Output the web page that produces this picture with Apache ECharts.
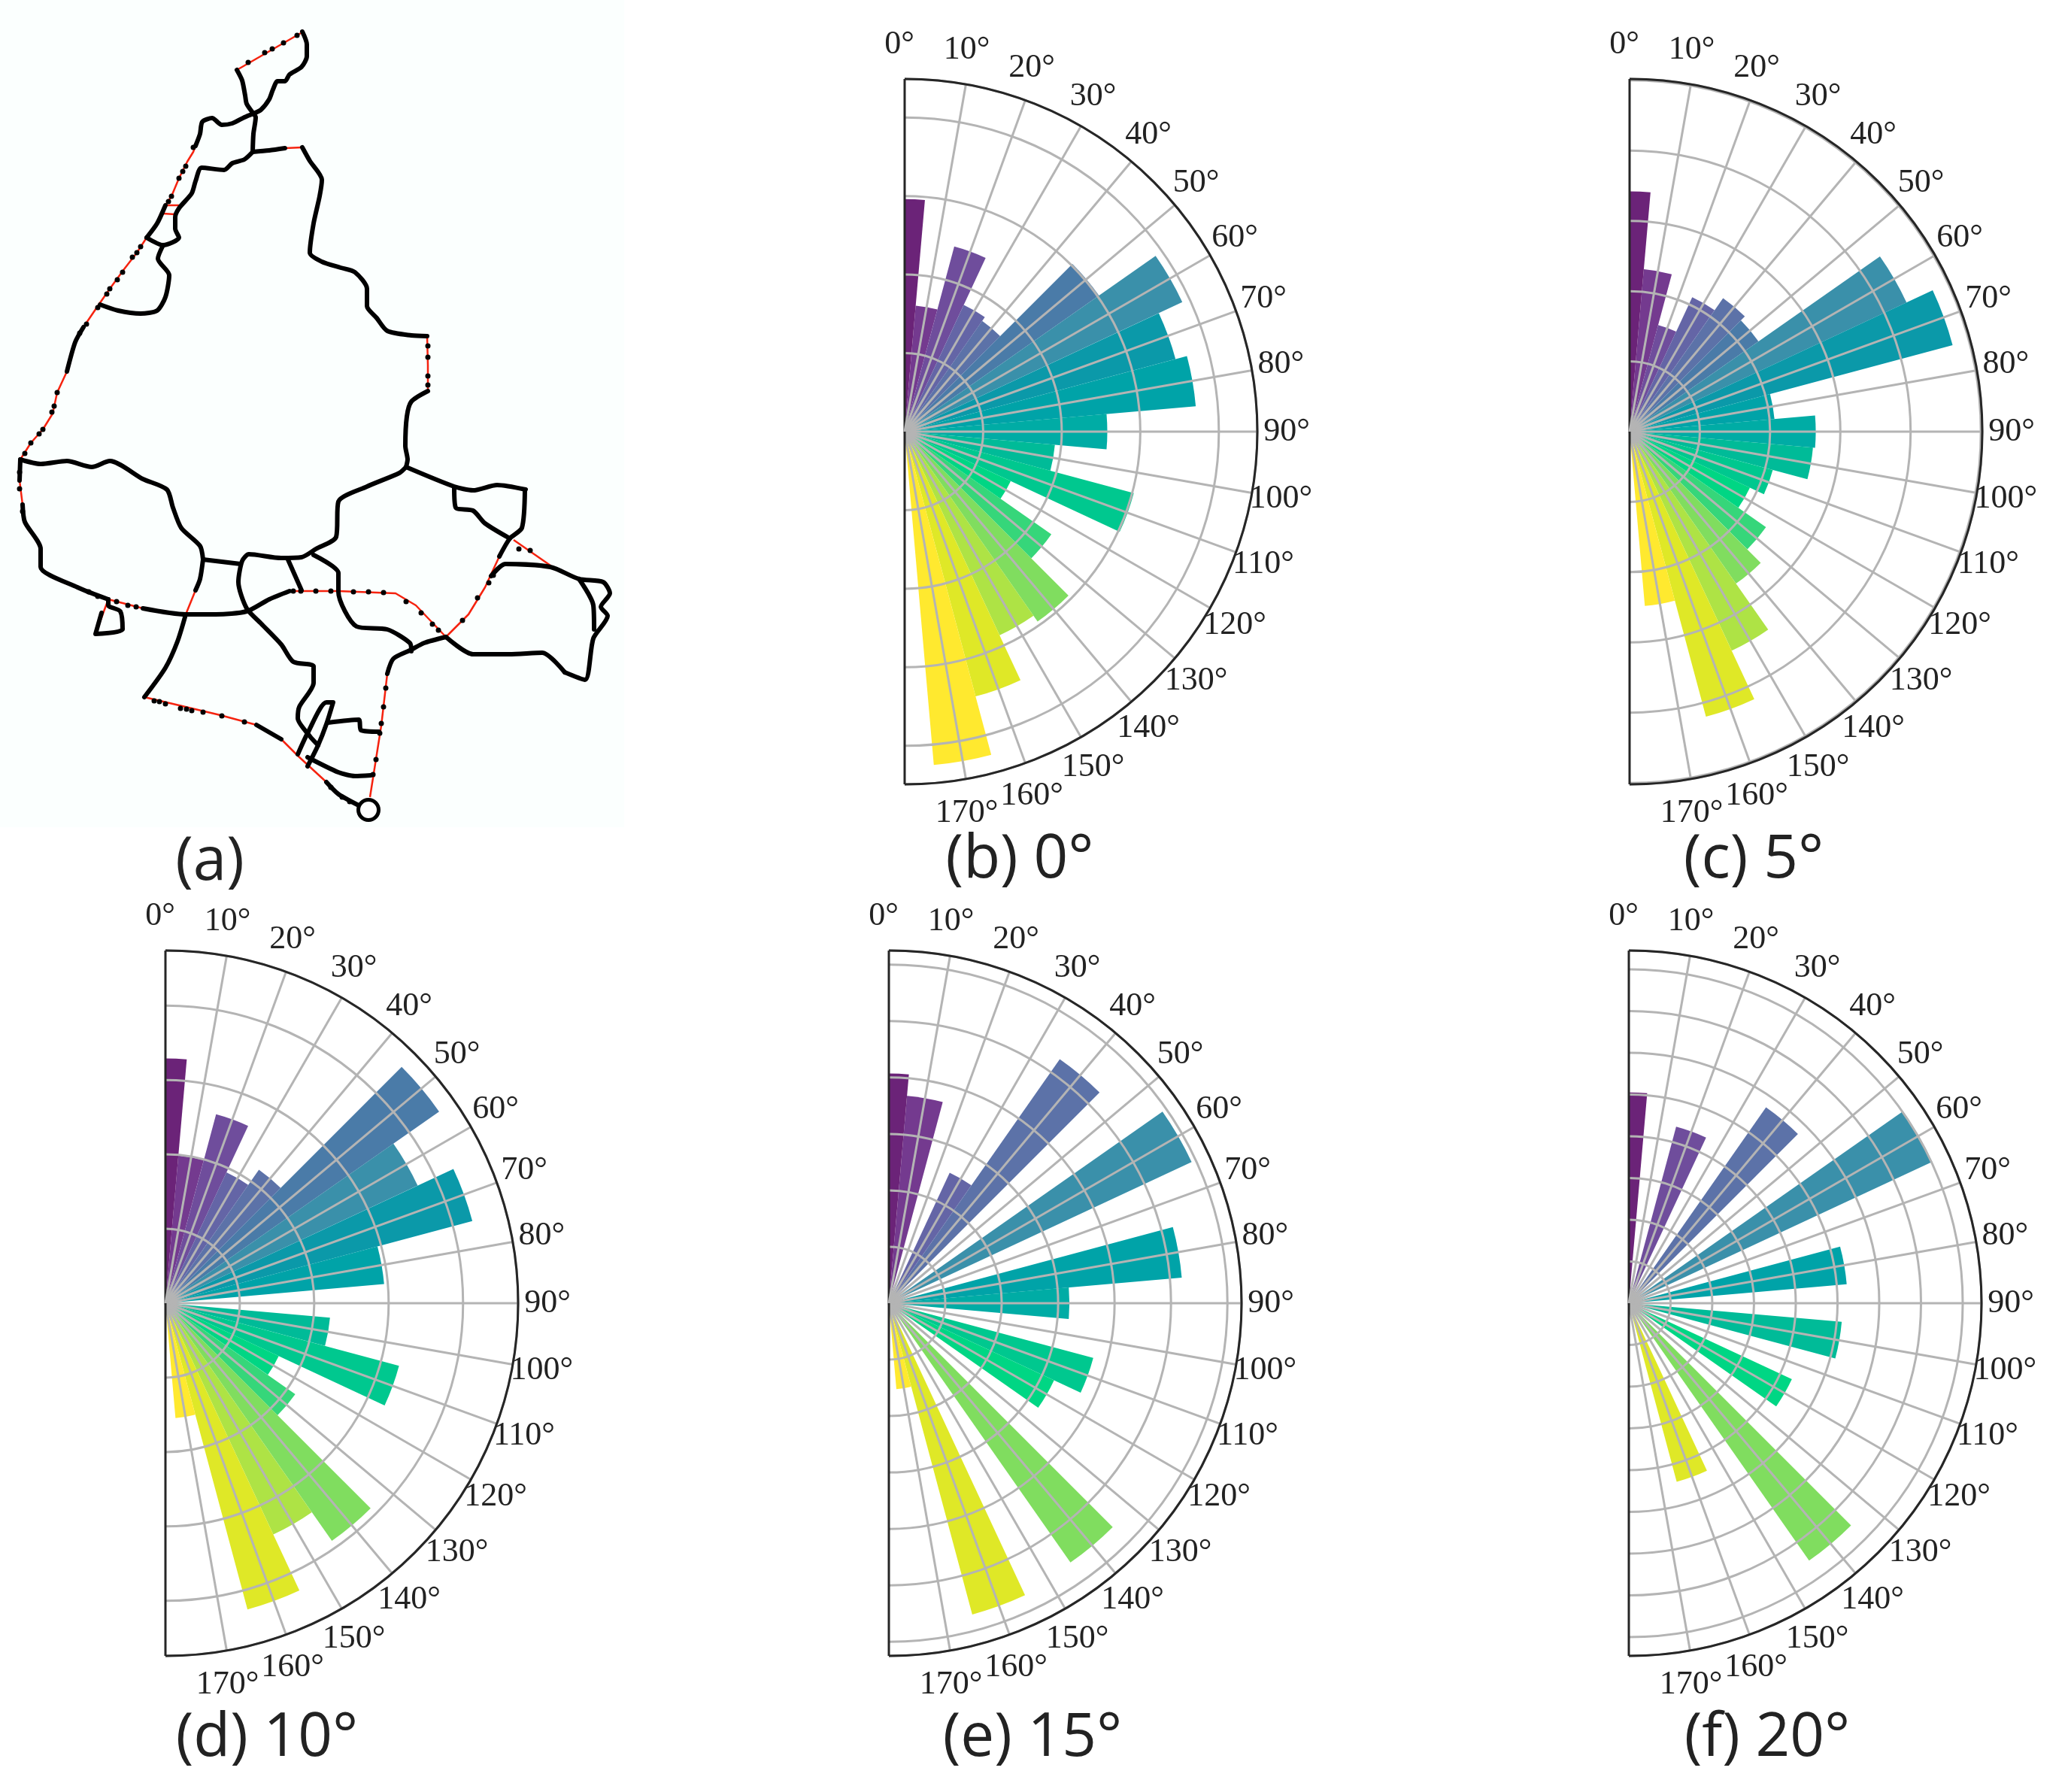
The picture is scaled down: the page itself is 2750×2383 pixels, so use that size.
<!DOCTYPE html>
<html>
<head>
<meta charset="utf-8">
<style>
html, body { margin: 0; padding: 0; background: #fff; }
#main { width: 2750px; height: 2383px; }
</style>
<script src="https://cdn.jsdelivr.net/npm/echarts@6/dist/echarts.min.js"></script>
</head>
<body>
<div id="main"></div>
<script>
// bar centres, one bar per 10 degrees
const headings = [0, 10, 20, 30, 40, 50, 60, 70, 80, 90, 100, 110, 120, 130, 140, 150, 160, 170];
const tickLabels = ['0°', '10°', '20°', '30°', '40°', '50°', '60°', '70°', '80°', '90°', '100°', '110°', '120°', '130°', '140°', '150°', '160°', '170°'];
const headingColors = ['#6b2378', '#743a8f', '#6f4d9c', '#6465a6', '#5c72a8', '#4a7ba8', '#3a90aa', '#0b99a9', '#00a3a8', '#00aca5',
  '#00bb98', '#00c88f', '#00d684', '#36d67a', '#80dd5f', '#aee345', '#dfe827', '#ffe92f'];

// bar lengths, in rings of each panel's radial grid
const valuesB = [2.96, 1.61, 2.44, 1.78, 1.72, 3.02, 3.90, 3.57, 3.72, 2.58, 1.92, 3.02, 1.49, 2.28, 2.95, 2.86, 3.49, 4.26];
const valuesC = [3.42, 2.32, 1.57, 2.11, 2.32, 2.24, 4.35, 4.76, 2.07, 2.65, 2.62, 2.11, 1.89, 2.37, 2.64, 3.44, 4.20, 2.49];
const valuesD = [3.29, 1.99, 2.63, 1.94, 2.19, 4.49, 3.74, 4.27, 2.95, 0, 2.22, 3.25, 1.68, 2.13, 3.90, 3.43, 4.26, 1.55];
const valuesE = [4.07, 3.69, 0, 2.55, 5.28, 0, 5.92, 0, 5.21, 3.20, 0, 3.75, 3.23, 0, 5.61, 0, 5.71, 1.53];
const valuesF = [5.05, 0, 4.38, 0, 5.73, 0, 8.02, 0, 5.24, 0, 5.12, 0, 4.31, 0, 7.53, 0, 4.43, 0];

// panel (a): road network
const blackRoads = [
  [[315,93],[322,107],[326,127],[328,138],[337,151]],
  [[402,42],[408,59],[408,75],[401,89],[385,99],[379,108],[369,108],[363,119],[358,132],[347,146],[337,151]],
  [[337,151],[325,156],[309,164],[295,166],[282,157],[269,162],[266,178],[260,194]],
  [[337,151],[340,156],[337,178],[336,202],[358,200],[379,197]],
  [[402,196],[412,214],[428,239],[425,261],[417,297],[412,336],[428,348],[453,356],[472,362],[488,384],[488,407],[501,423],[515,440],[547,446],[568,447]],
  [[569,520],[547,534],[541,554],[539,593],[542,611],[540,621]],
  [[336,202],[325,212],[309,217],[298,226],[268,223],[260,241],[255,257],[238,277],[233,289],[233,304],[238,316],[217,326],[195,316]],
  [[217,326],[210,344],[225,366],[220,395],[209,413],[187,417],[157,413],[133,405]],
  [[220,273],[209,297],[195,316]],
  [[111,435],[100,455],[89,494]],
  [[27,611],[54,617],[89,613],[122,621],[146,613],[190,637],[222,651],[230,675],[241,702],[266,726],[270,744]],
  [[27,611],[26,639]],
  [[30,671],[33,694],[54,730],[54,754],[103,781],[144,797]],
  [[190,809],[247,817],[287,817],[328,813],[358,797],[385,786]],
  [[593,847],[629,870],[677,870],[721,868],[751,894]],
  [[270,744],[266,770],[260,785]],
  [[247,817],[236,853],[220,888],[192,927]],
  [[341,964],[374,983]],
  [[434,1040],[450,1056],[477,1071]],
  [[515,896],[523,876],[547,864],[564,855],[593,847]],
  [[664,740],[678,716],[694,702],[698,651]],
  [[540,621],[604,647],[629,652],[661,645],[699,651]],
  [[540,621],[531,629],[488,647],[450,667],[447,714],[420,730],[401,741],[374,742],[331,737],[322,746],[317,774],[328,809],[347,829],[374,857],[390,880],[417,886],[417,908],[398,940],[396,955],[412,979],[423,991]],
  [[270,744],[320,750]],
  [[382,742],[401,785]],
  [[417,738],[450,762],[450,787],[474,833],[515,837],[545,855],[547,866]],
  [[604,649],[606,675],[629,679],[645,696],[678,716]],
  [[653,766],[672,750],[732,754],[770,770],[802,774],[811,789],[799,807],[808,819],[789,849],[778,904],[751,894]],
  [[770,770],[789,805],[790,837]],
  [[144,797],[144,805],[160,813],[163,837],[127,843],[135,815]],
  [[396,1003],[409,975],[434,934],[443,934],[434,963],[423,991],[409,1019]],
  [[436,961],[477,957],[480,971],[504,973]],
  [[409,1007],[450,1027],[472,1032],[493,1031]]
];
const redRoads = [
  [[315,93],[400,44]],
  [[260,194],[257,202],[249,215],[238,237],[228,261],[220,273]],
  [[195,316],[182,336],[165,358],[146,384],[130,407],[111,435]],
  [[89,494],[76,522],[70,550],[57,571],[41,589],[27,611]],
  [[379,197],[402,196]],
  [[568,447],[569,486],[569,520]],
  [[220,273],[238,273]],
  [[217,284],[233,285]],
  [[26,639],[30,671]],
  [[144,797],[190,809]],
  [[385,786],[450,786],[526,789],[553,805],[593,847]],
  [[260,785],[247,817]],
  [[192,927],[293,951],[341,964]],
  [[374,983],[396,1005],[434,1040]],
  [[492,1060],[507,965],[515,896]],
  [[593,847],[623,817],[645,781],[664,740]],
  [[683,718],[732,752]],
  [[751,894],[778,904]],
  [[144,797],[127,843]]
];
const roadStops = [
  [330,83],[352,70],[362,65],[377,57],[395,47],
  [257,196],[247,221],[243,228],[238,237],[228,261],[224,268],[187,328],[182,336],[176,342],[163,362],[156,372],[146,384],[142,391],[130,409],[115,431],[106,443],
  [76,522],[72,540],[69,548],[57,571],[52,577],[41,589],[33,603],
  [569,460],[569,475],[569,500],[569,512],
  [26,628],[26,650],[30,680],
  [118,787],[130,793],[155,800],[170,805],[181,807],
  [390,786],[400,786],[420,786],[440,786],[470,787],[490,787],[510,788],[540,800],[560,815],[575,830],[583,838],
  [205,932],[212,933],[220,936],[240,942],[248,943],[255,945],[270,947],[295,952],[325,960],
  [496,1030],[500,1010],[505,975],[507,962],[510,940],[513,915],
  [615,825],[635,795],[650,775],[656,765],
  [440,1047],[455,1060],[465,1066],
  [690,730],[705,732]
];
const roadEnd = [[490, 1077]];

const panels = [
  { values: valuesB, center: [1203, 574], maxRing: 4.49 },
  { values: valuesC, center: [2167, 574], maxRing: 5.02 },
  { values: valuesD, center: [220, 1733], maxRing: 4.74 },
  { values: valuesE, center: [1182, 1733], maxRing: 6.25 },
  { values: valuesF, center: [2166, 1733], maxRing: 8.45 }
];
const panelRadius = 469;
const labelRadius = 515;

const captions = [
  { text: '(a)', x: 279, y: 1147 },
  { text: '(b) 0°', x: 1356, y: 1144 },
  { text: '(c) 5°', x: 2332, y: 1144 },
  { text: '(d) 10°', x: 355, y: 2312 },
  { text: '(e) 15°', x: 1373, y: 2312 },
  { text: '(f) 20°', x: 2350, y: 2312 }
];

// gray spokes, except the two that close the half circle
const spokeColors = ['#262626'].concat(headings.slice(1).map(() => '#b4b4b4'), ['#262626']);

let series = [];
let polar = [];
let angleAxis = [];
let radiusAxis = [];

panels.forEach((p, i) => {
  // main polar: grid, labels and the full 10 degree bars
  let mainIndex = polar.length;
  polar.push({ center: p.center, radius: [0, panelRadius] });
  angleAxis.push({
    polarIndex: mainIndex,
    type: 'value',
    min: 0,
    max: 180,
    interval: 10,
    startAngle: 90,
    endAngle: -90,
    clockwise: true,
    z: 6,
    axisLine: { show: true, lineStyle: { color: '#262626', width: 3 } },
    axisTick: { show: false },
    axisLabel: { show: false },
    splitLine: { show: true, lineStyle: { color: spokeColors, width: 3 } }
  });
  radiusAxis.push({
    polarIndex: mainIndex,
    type: 'value',
    min: 0,
    max: p.maxRing,
    interval: 1,
    z: 5,
    axisLine: { show: false },
    axisTick: { show: false },
    axisLabel: { show: false },
    splitLine: { show: true, lineStyle: { color: '#b4b4b4', width: 3 } }
  });
  series.push({
    type: 'bar',
    coordinateSystem: 'polar',
    polarIndex: mainIndex,
    barWidth: 10,
    z: 2,
    data: p.values.map((v, j) => ({
      value: [j === 0 ? 0 : v, headings[j]],
      itemStyle: { color: headingColors[j] }
    }))
  });
  // tick labels, centred on their spot outside the rim
  series.push({
    type: 'scatter',
    coordinateSystem: 'polar',
    polarIndex: mainIndex,
    clip: false,
    symbolSize: 1,
    z: 7,
    itemStyle: { color: 'transparent', opacity: 1 },
    label: {
      show: true,
      position: 'inside',
      offset: [-7, 0],
      align: 'center',
      verticalAlign: 'middle',
      fontFamily: 'Liberation Serif',
      fontSize: 44,
      color: '#222',
      opacity: 1,
      formatter: d => tickLabels[d.dataIndex]
    },
    data: headings.map(a => [p.maxRing * labelRadius / panelRadius, a])
  });

  // second polar on the same spot: the bar at 0 degrees only shows its half inside the axis
  let halfIndex = polar.length;
  polar.push({ center: p.center, radius: [0, panelRadius] });
  angleAxis.push({
    polarIndex: halfIndex, type: 'value', min: 0, max: 180, interval: 10, startAngle: 90, endAngle: -90, clockwise: true,
    axisLine: { show: false }, axisTick: { show: false }, axisLabel: { show: false }, splitLine: { show: false }
  });
  radiusAxis.push({
    polarIndex: halfIndex, type: 'value', min: 0, max: p.maxRing, interval: 1,
    axisLine: { show: false }, axisTick: { show: false }, axisLabel: { show: false }, splitLine: { show: false }
  });
  series.push({
    type: 'bar',
    coordinateSystem: 'polar',
    polarIndex: halfIndex,
    barWidth: 5,
    z: 2,
    data: [{ value: [p.values[0], headings[0] + 2.5], itemStyle: { color: headingColors[0] } }]
  });
});

blackRoads.forEach(road => {
  series.push({
    type: 'line', xAxisIndex: 0, yAxisIndex: 0, data: road, showSymbol: false, smooth: 0.25, z: 3,
    lineStyle: { color: '#000', width: 6, cap: 'round', join: 'round' }
  });
});
redRoads.forEach(road => {
  series.push({
    type: 'line', xAxisIndex: 0, yAxisIndex: 0, data: road, showSymbol: false, z: 2,
    lineStyle: { color: '#f5230f', width: 2.5 }
  });
});
series.push({
  type: 'scatter', xAxisIndex: 0, yAxisIndex: 0, data: roadStops, symbolSize: 7, z: 4,
  itemStyle: { color: '#000', opacity: 1 }
});
series.push({
  type: 'scatter', xAxisIndex: 0, yAxisIndex: 0, data: roadEnd, symbolSize: 27, z: 4,
  itemStyle: { color: '#fff', borderColor: '#000', borderWidth: 5, opacity: 1 }
});

let myChart = echarts.init(document.getElementById('main'), null, { renderer: 'canvas' });
myChart.setOption({
  animation: false,
  backgroundColor: '#fff',
  grid: { left: 0, top: 0, width: 850, height: 1130, containLabel: false },
  xAxis: { type: 'value', min: 0, max: 850, show: false },
  yAxis: { type: 'value', min: 0, max: 1130, inverse: true, show: false },
  polar: polar,
  angleAxis: angleAxis,
  radiusAxis: radiusAxis,
  series: series,
  graphic: [{
    type: 'rect',
    z: -1,
    shape: { x: 0, y: 0, width: 830, height: 1100 },
    style: { fill: '#fbfffe' }
  }].concat(captions.map(c => ({
    type: 'text',
    x: c.x,
    y: c.y,
    style: {
      text: c.text,
      fontFamily: 'Open Sans',
      fontSize: 80,
      fill: '#222',
      align: 'center',
      verticalAlign: 'middle'
    }
  })))
});
</script>
</body>
</html>
